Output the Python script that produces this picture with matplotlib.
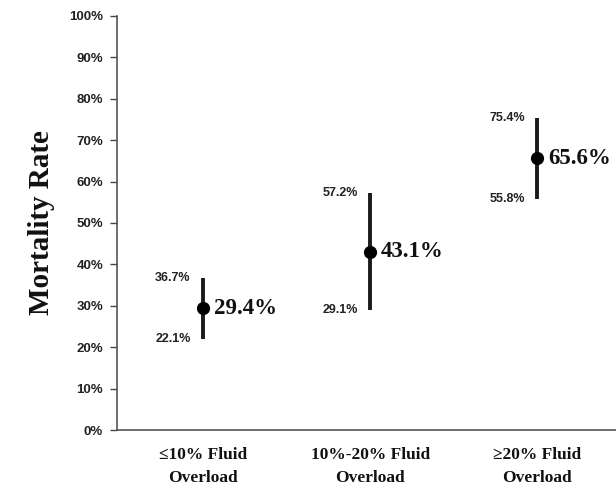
import matplotlib
matplotlib.use('Agg')
import matplotlib.pyplot as plt
from matplotlib.ticker import PercentFormatter

categories = ['≤10% Fluid\nOverload', '10%-20% Fluid\nOverload', '≥20% Fluid\nOverload']
rates = [29.4, 43.1, 65.6]
lower = [22.1, 29.1, 55.8]
upper = [36.7, 57.2, 75.4]

fig = plt.figure(figsize=(6.16, 4.98), dpi=100)
ax = fig.add_axes([0.19, 0.1365, 0.81, 0.8315])

x = list(range(1, len(categories) + 1))
yerr = [[r - lo for r, lo in zip(rates, lower)], [hi - r for r, hi in zip(rates, upper)]]
ax.errorbar(x, rates, yerr=yerr, fmt='o', color='black', ecolor='#1a1a1a', ms=8.5,
            elinewidth=2.8, capsize=0)

for xi, r, lo, hi in zip(x, rates, lower, upper):
    ax.text(xi + 0.065, r, f'{r:.1f}%', family='Liberation Serif', weight='bold',
            fontsize=16.5, va='center', ha='left', color='#111111')
    ax.text(xi - 0.075, hi, f'{hi:.1f}%', family='Liberation Sans', weight='bold',
            fontsize=9, va='center', ha='right', color='#222222')
    ax.text(xi - 0.075, lo, f'{lo:.1f}%', family='Liberation Sans', weight='bold',
            fontsize=9, va='center', ha='right', color='#222222')

ax.set_xlim(0.485, 3.47)
ax.set_ylim(0, 100)
ax.set_yticks(range(0, 101, 10))
ax.yaxis.set_major_formatter(PercentFormatter(decimals=0))
ax.set_xticks(x)
ax.set_xticklabels(categories, family='Liberation Serif', weight='bold', fontsize=12.5,
                   linespacing=1.6, color='#111111')
ax.tick_params(axis='x', length=0, pad=12)
ax.tick_params(axis='y', length=5, width=1, direction='out', pad=5, color='#444444')
for lbl in ax.get_yticklabels():
    lbl.set_family('Liberation Sans')
    lbl.set_weight('bold')
    lbl.set_fontsize(9.5)
    lbl.set_color('#222222')

ax.spines['top'].set_visible(False)
ax.spines['right'].set_visible(False)
for s in ['left', 'bottom']:
    ax.spines[s].set_color('#555555')
    ax.spines[s].set_linewidth(1.2)

ax.set_ylabel('Mortality Rate', family='Liberation Serif', weight='bold', fontsize=21,
              color='#111111')
ax.yaxis.set_label_coords(-0.125, 0.5)

fig.savefig('out.png', dpi=100)
